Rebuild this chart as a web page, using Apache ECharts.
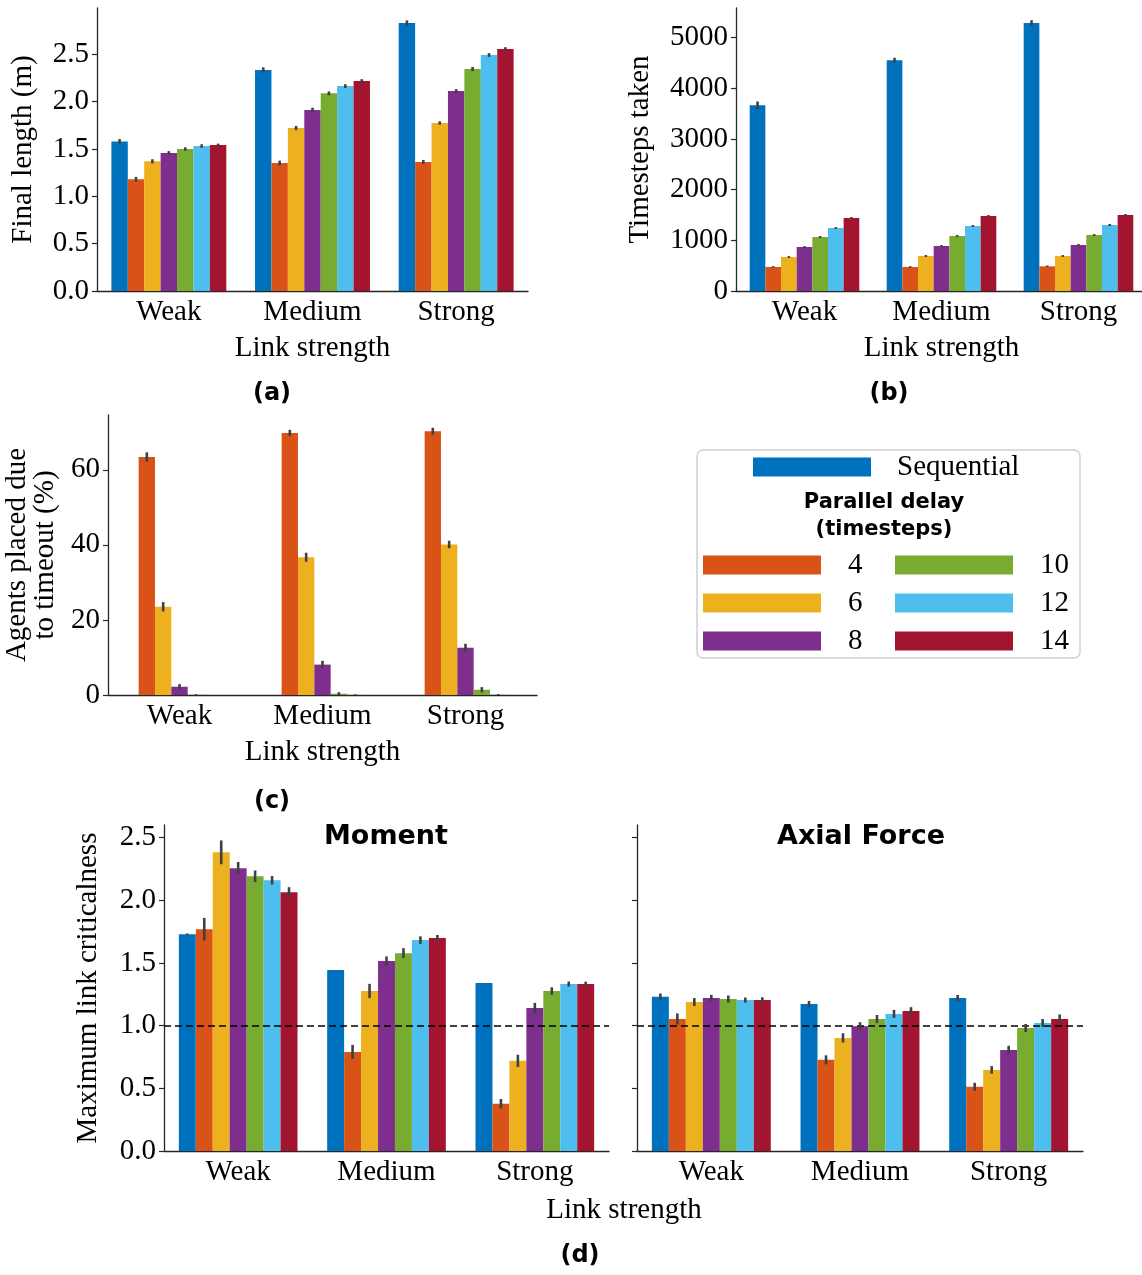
<!DOCTYPE html>
<html>
<head>
<meta charset="utf-8">
<script src="https://cdn.jsdelivr.net/npm/echarts@6/dist/echarts.min.js"></script>
<style>
  html, body { margin: 0; padding: 0; background: #fff; }
  #chart { width: 1142px; height: 1275px; }
</style>
</head>
<body>
<div id="chart"></div>
<script>
// Shared categories and series (rows of each data table follow seriesNames)
const categories = ['Weak', 'Medium', 'Strong'];
const seriesNames = ['Sequential', '4', '6', '8', '10', '12', '14'];
const palette = ['#0072BD', '#D95319', '#EDB120', '#7E2F8E', '#77AC30', '#4DBEEE', '#A2142F'];

// (a) Final length (m)
const finalLength = [
  [1.580, 2.335, 2.831],
  [1.180, 1.352, 1.363],
  [1.370, 1.722, 1.775],
  [1.458, 1.912, 2.113],
  [1.500, 2.088, 2.345],
  [1.532, 2.165, 2.493],
  [1.542, 2.218, 2.556]
];
const finalLengthErr = [
  [0.025, 0.028, 0.028],
  [0.025, 0.025, 0.022],
  [0.022, 0.022, 0.018],
  [0.020, 0.025, 0.020],
  [0.018, 0.020, 0.022],
  [0.018, 0.020, 0.020],
  [0.015, 0.020, 0.020]
];
const finalLengthTicks = [0, 0.5, 1.0, 1.5, 2.0, 2.5];

// (b) Timesteps taken
const timesteps = [
  [3664, 4553, 5289],
  [474, 474, 487],
  [671, 691, 691],
  [868, 888, 908],
  [1066, 1086, 1105],
  [1243, 1283, 1303],
  [1441, 1480, 1500]
];
const timestepsErr = [
  [75, 50, 55],
  [15, 15, 15],
  [18, 18, 18],
  [18, 18, 18],
  [18, 18, 18],
  [18, 18, 20],
  [18, 18, 20]
];
const timestepsTicks = [0, 1000, 2000, 3000, 4000, 5000];

// (c) Agents placed due to timeout (%)
const timeoutPct = [
  [0, 0, 0],
  [63.4, 69.8, 70.3],
  [23.5, 36.7, 40.1],
  [2.2, 8.1, 12.6],
  [0.05, 0.35, 1.4],
  [0, 0.05, 0.1],
  [0, 0, 0]
];
const timeoutPctErr = [
  [0, 0, 0],
  [1.25, 0.85, 0.9],
  [1.25, 1.2, 1.0],
  [0.7, 1.0, 1.05],
  [0.15, 0.4, 0.7],
  [0, 0.15, 0.15],
  [0, 0, 0]
];
const timeoutTicks = [0, 20, 40, 60];

// (d) Maximum link criticalness: moment and axial force
const momentCrit = [
  [1.729, 1.443, 1.340],
  [1.769, 0.790, 0.377],
  [2.382, 1.276, 0.719],
  [2.255, 1.515, 1.141],
  [2.191, 1.578, 1.276],
  [2.159, 1.682, 1.332],
  [2.064, 1.698, 1.332]
];
const momentCritErr = [
  [0.006, 0, 0],
  [0.090, 0.056, 0.038],
  [0.095, 0.057, 0.049],
  [0.050, 0.037, 0.040],
  [0.046, 0.040, 0.030],
  [0.034, 0.030, 0.020],
  [0.040, 0.025, 0.018]
];
const axialCrit = [
  [1.231, 1.172, 1.220],
  [1.053, 0.727, 0.512],
  [1.188, 0.902, 0.647],
  [1.220, 0.995, 0.806],
  [1.212, 1.053, 0.981],
  [1.204, 1.093, 1.021],
  [1.204, 1.117, 1.053]
];
const axialCritErr = [
  [0.025, 0.024, 0.024],
  [0.044, 0.036, 0.032],
  [0.032, 0.037, 0.030],
  [0.025, 0.032, 0.033],
  [0.028, 0.032, 0.032],
  [0.020, 0.032, 0.032],
  [0.022, 0.030, 0.036]
];
const critTicks = [0, 0.5, 1.0, 1.5, 2.0, 2.5];
const criticalThreshold = 1.0;

// ---- styling ----
const SERIF = 'Liberation Serif';
const SANS = 'DejaVu Sans';
const AXIS_COLOR = '#262626';
const ERR_COLOR = '#404040';
const FS = 29;

const grids = [], xAxes = [], yAxes = [], series = [];

function addPanel(cfg) {
  const gi = grids.length;
  grids.push({ left: cfg.left, top: cfg.top, width: cfg.width, height: cfg.height,
    containLabel: false, outerBoundsMode: 'none' });
  xAxes.push({
    type: 'category', gridIndex: gi, data: categories,
    boundaryGap: true,
    axisLine: { lineStyle: { color: AXIS_COLOR, width: 1.3 } },
    axisTick: { alignWithLabel: true, length: 5, lineStyle: { color: AXIS_COLOR, width: 1.2 } },
    axisLabel: { fontFamily: SERIF, fontSize: FS, color: '#000', margin: 7 },
    name: cfg.xName || '', nameLocation: 'middle', nameGap: 43,
    nameTextStyle: { fontFamily: SERIF, fontSize: FS, color: '#000' },
    splitLine: { show: false }
  });
  yAxes.push({
    type: 'value', gridIndex: gi, min: 0, max: cfg.max,
    axisLine: { show: true, lineStyle: { color: AXIS_COLOR, width: 1.3 } },
    axisTick: { show: true, length: 5, customValues: cfg.ticks, lineStyle: { color: AXIS_COLOR, width: 1.2 } },
    axisLabel: {
      show: cfg.showLabels !== false, customValues: cfg.ticks,
      fontFamily: SERIF, fontSize: FS, color: '#000', margin: 8,
      formatter: v => v.toFixed(cfg.decimals)
    },
    name: cfg.yName || '', nameLocation: 'middle', nameGap: cfg.yNameGap || 50,
    nameTextStyle: { fontFamily: SERIF, fontSize: FS, color: '#000', lineHeight: 28 },
    splitLine: { show: false }
  });

  seriesNames.forEach((name, s) => {
    const bar = {
      type: 'bar', name: name, xAxisIndex: gi, yAxisIndex: gi,
      data: cfg.values[s],
      barGap: '0%', barCategoryGap: '20%',
      itemStyle: { color: palette[s] },
      silent: true
    };
    if (cfg.threshold != null && s === 0) {
      bar.markLine = {
        silent: true, symbol: 'none', label: { show: false },
        lineStyle: { color: '#000', type: [7, 4], width: 1.5 },
        data: [{ yAxis: cfg.threshold }]
      };
    }
    series.push(bar);
  });

  // error bars: [categoryIndex, seriesIndex, low, high]
  const errData = [];
  seriesNames.forEach((name, s) => {
    categories.forEach((c, ci) => {
      const e = cfg.errors[s][ci];
      if (e > 0) {
        const v = cfg.values[s][ci];
        errData.push([ci, s, Math.max(0, v - e), v + e]);
      }
    });
  });
  series.push({
    type: 'custom', xAxisIndex: gi, yAxisIndex: gi, silent: true, z: 5,
    data: errData,
    encode: { x: 0, y: [2, 3] },
    renderItem: function (params, api) {
      const ci = api.value(0), s = api.value(1);
      const center = api.coord([ci, 0])[0];
      const catW = api.size([1, 0])[0];
      const bw = catW * 0.8 / seriesNames.length;
      const x = center + (s - (seriesNames.length - 1) / 2) * bw;
      const y1 = api.coord([ci, api.value(2)])[1];
      const y2 = api.coord([ci, api.value(3)])[1];
      return {
        type: 'line',
        shape: { x1: x, y1: y1, x2: x, y2: y2 },
        style: { stroke: ERR_COLOR, lineWidth: 2.6 }
      };
    }
  });
}

addPanel({ left: 97, top: 8, width: 431, height: 283, max: 2.99, ticks: finalLengthTicks, decimals: 1,
  values: finalLength, errors: finalLengthErr, xName: 'Link strength', yName: 'Final length (m)', yNameGap: 60 });
addPanel({ left: 736, top: 8, width: 411, height: 283, max: 5585, ticks: timestepsTicks, decimals: 0,
  values: timesteps, errors: timestepsErr, xName: 'Link strength', yName: 'Timesteps taken', yNameGap: 82 });
addPanel({ left: 108, top: 415, width: 429, height: 280, max: 74.6, ticks: timeoutTicks, decimals: 0,
  values: timeoutPct, errors: timeoutPctErr, xName: 'Link strength', yName: 'Agents placed due\nto timeout (%)', yNameGap: 49 });
addPanel({ left: 164, top: 825, width: 445, height: 326, max: 2.6, ticks: critTicks, decimals: 1,
  values: momentCrit, errors: momentCritErr, yName: 'Maximum link criticalness', yNameGap: 62, threshold: criticalThreshold });
addPanel({ left: 637, top: 825, width: 446, height: 326, max: 2.6, ticks: critTicks, decimals: 1, showLabels: false,
  values: axialCrit, errors: axialCritErr, threshold: criticalThreshold });

const legendText = { fontFamily: SERIF, fontSize: FS, color: '#000', lineHeight: 30 };
const legends = [
  { data: ['Sequential'], left: 753, top: 452, padding: 0, icon: 'rect', itemWidth: 118, itemHeight: 19,
    selectedMode: false, textStyle: Object.assign({ padding: [0, 0, 0, 21] }, legendText) },
  { data: ['4', '6', '8'], orient: 'vertical', left: 703, top: 550, padding: 0, itemGap: 8, icon: 'rect',
    itemWidth: 118, itemHeight: 19, selectedMode: false, textStyle: Object.assign({ padding: [0, 0, 0, 22] }, legendText) },
  { data: ['10', '12', '14'], orient: 'vertical', left: 895, top: 550, padding: 0, itemGap: 8, icon: 'rect',
    itemWidth: 118, itemHeight: 19, selectedMode: false, textStyle: Object.assign({ padding: [0, 0, 0, 22] }, legendText) }
];

function label(text, x, y, font) {
  return {
    type: 'text', x: x, y: y, silent: true,
    style: { text: text, font: font, fill: '#000', textAlign: 'center', textVerticalAlign: 'middle', align: 'center', verticalAlign: 'middle' }
  };
}

const graphics = [
  { type: 'rect', shape: { x: 697, y: 450, width: 383, height: 208, r: 6 }, silent: true, z: -1,
    style: { fill: '#fff', stroke: '#d0d0d0', lineWidth: 1.5 } },
  {
    type: 'text', x: 884, y: 489, silent: true,
    style: { text: 'Parallel delay\n(timesteps)', font: 'bold 21px "' + SANS + '"', fill: '#000',
      textAlign: 'center', align: 'center', lineHeight: 27 }
  },
  label('(a)', 272, 394, 'bold 24px "' + SANS + '"'),
  label('(b)', 889, 394, 'bold 24px "' + SANS + '"'),
  label('(c)', 272, 802, 'bold 24px "' + SANS + '"'),
  label('(d)', 580, 1256, 'bold 24px "' + SANS + '"'),
  label('Moment', 386, 837, 'bold 27px "' + SANS + '"'),
  label('Axial Force', 861, 837, 'bold 27px "' + SANS + '"'),
  label('Link strength', 624, 1210, FS + 'px "' + SERIF + '"')
];

const chart = echarts.init(document.getElementById('chart'), null, { renderer: 'canvas' });
chart.setOption({
  animation: false,
  backgroundColor: '#fff',
  grid: grids,
  xAxis: xAxes,
  yAxis: yAxes,
  legend: legends,
  series: series,
  graphic: graphics
});
</script>
</body>
</html>
